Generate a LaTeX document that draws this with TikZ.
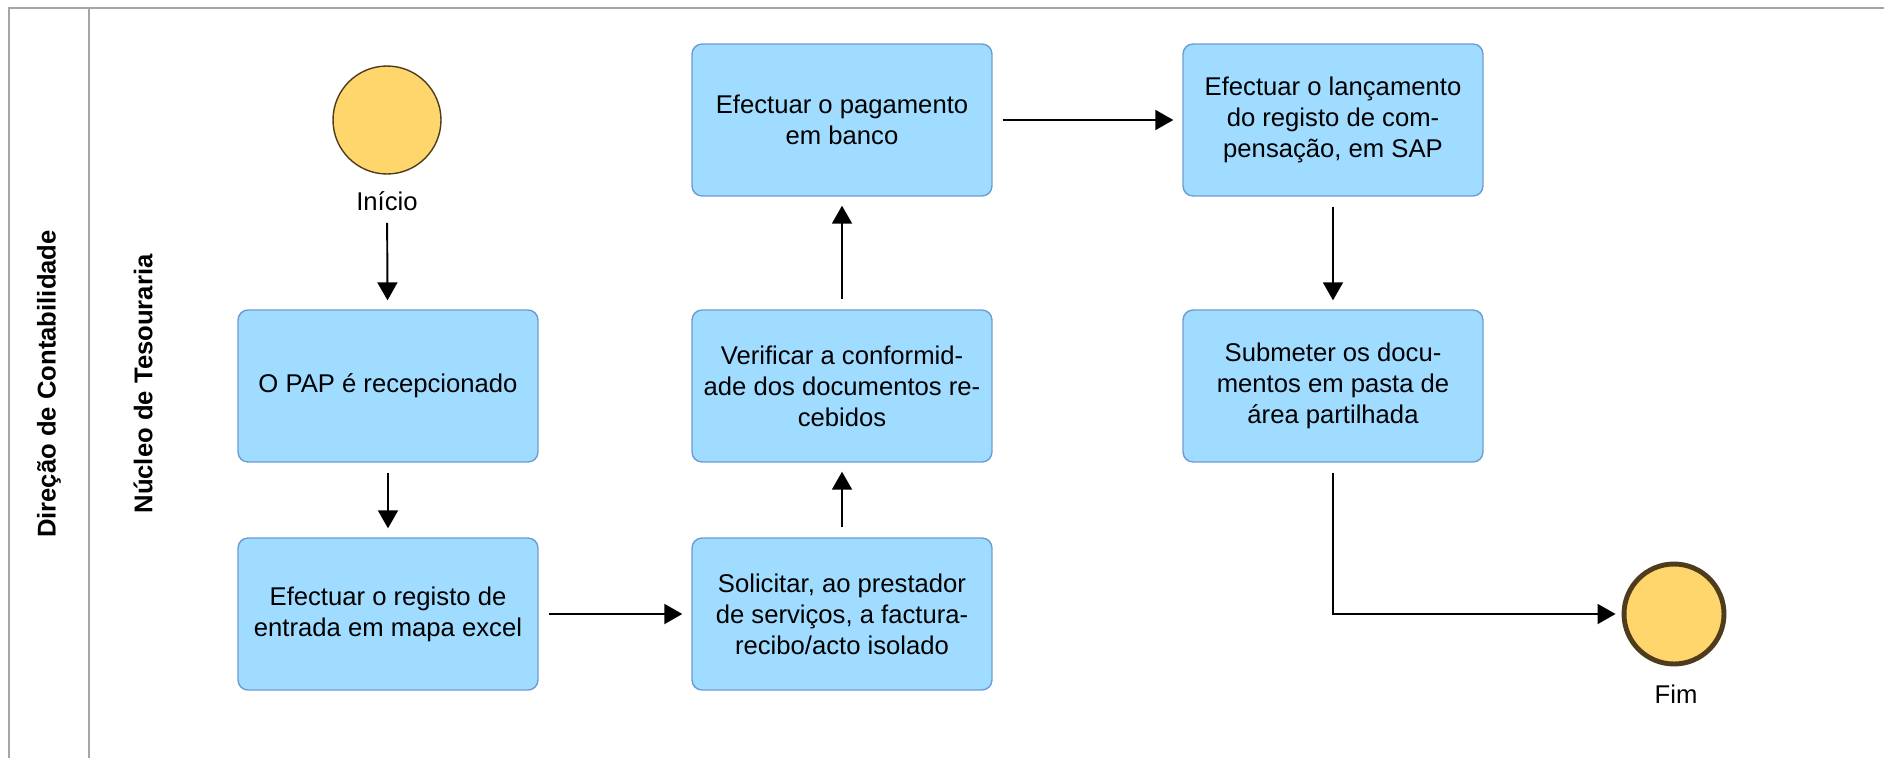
\documentclass[tikz,border=0pt]{standalone}
\usepackage{fontspec}
\setmainfont{Liberation Sans}
\usepackage{xcolor}
\usetikzlibrary{arrows.meta}
\definecolor{fundotarefa}{HTML}{A0DCFF}
\definecolor{bordatarefa}{HTML}{6C9CD2}
\definecolor{fundoevento}{HTML}{FFD66B}
\definecolor{bordaevento}{HTML}{4F3C1C}
\definecolor{cinzaquadro}{HTML}{A6A6A6}

\begin{document}
\begin{tikzpicture}[x=0.02cm,y=-0.02cm,
		every node/.style={font=\fontsize{14.6}{17.6}\selectfont},
		tarefa/.style={draw=bordatarefa,fill=fundotarefa,line width=0.8pt,rounded corners=0.2cm,
			minimum width=6cm,minimum height=3.04cm,align=center},
		evento/.style={circle,fill=fundoevento,draw=bordaevento,line width=0.8pt,minimum size=2.16cm},
		seta/.style={-{Triangle[length=0.36cm,width=0.4cm]},line width=1.1pt,shorten <=0.2cm,shorten >=0.18cm},
		quadro/.style={draw=cinzaquadro,line width=1.4pt}]
			\useasboundingbox (0,0) rectangle (1884,758);
			% raias
			\draw[quadro] (1884,8) -- (9,8) -- (9,758);
			\draw[quadro] (89,8) -- (89,758);
			\node[rotate=90,font=\fontsize{14.6}{17.6}\selectfont\bfseries] (raia1) at (49,384) {Direção de Contabilidade};
			\node[rotate=90,font=\fontsize{14.6}{17.6}\selectfont\bfseries] (raia2) at (143,384) {Núcleo de Tesouraria};
			% eventos
			\node[evento] (inicio) at (387,120) {};
			\node (txtinicio) at (387,201) {Início};
			\node[evento,line width=2.8pt,minimum size=2cm] (fim) at (1674,614) {};
			\node (txtfim) at (1676,694) {Fim};
			% tarefas
			\node[tarefa] (pap) at (388,386) {O PAP é recepcionado};
			\node[tarefa] (registo) at (388,614) {Efectuar o registo de\\entrada em mapa excel};
			\node[tarefa] (solicitar) at (842,614) {Solicitar, ao prestador\\de serviços, a factura-\\recibo/acto isolado};
			\node[tarefa] (verificar) at (842,386) {Verificar a conformid-\\ade dos documentos re-\\cebidos};
			\node[tarefa] (pagamento) at (842,120) {Efectuar o pagamento\\em banco};
			\node[tarefa] (lancamento) at (1333,120) {Efectuar o lançamento\\do registo de com-\\pensação, em SAP};
			\node[tarefa] (submeter) at (1333,386) {Submeter os docu-\\mentos em pasta de\\área partilhada};
			% fluxo
			\draw[seta,shorten <=0.12cm] (txtinicio) -- (pap);
			\draw[seta] (pap) -- (registo);
			\draw[seta] (registo) -- (solicitar);
			\draw[seta] (solicitar) -- (verificar);
			\draw[seta] (verificar) -- (pagamento);
			\draw[seta] (pagamento) -- (lancamento);
			\draw[seta] (lancamento) -- (submeter);
			\draw[seta,shorten >=0.12cm] (submeter) |- (fim);
		\end{tikzpicture}
\end{document}
